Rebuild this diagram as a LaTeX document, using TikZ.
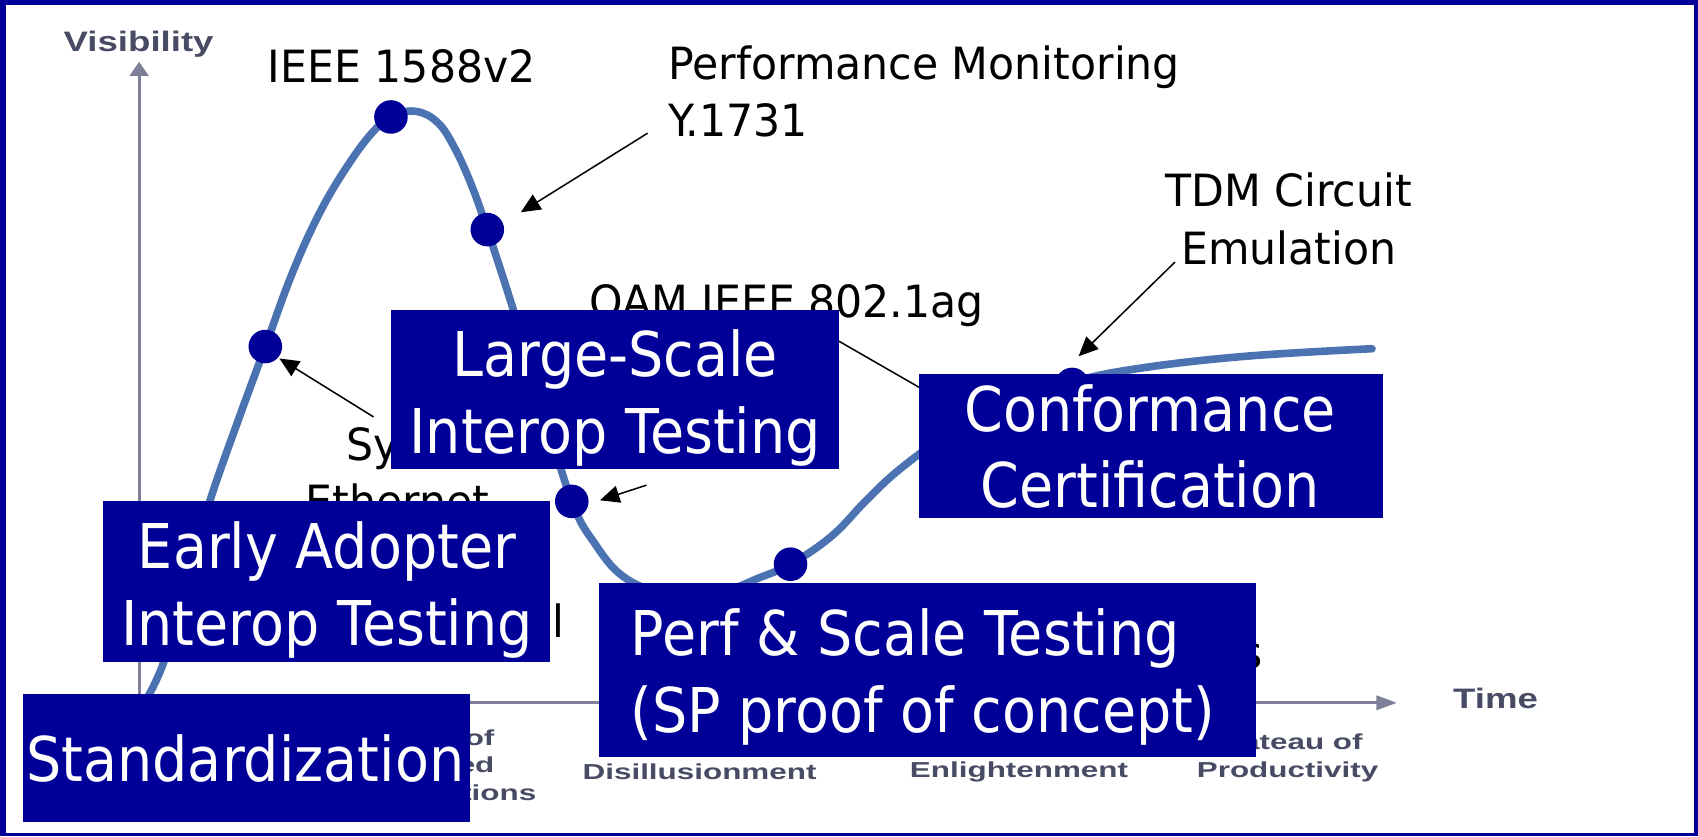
\documentclass[tikz,border=0pt]{standalone}
\usepackage{fontspec}
\usetikzlibrary{arrows.meta}
\newfontfamily\blkfont{DejaVu Sans}[FakeStretch=0.96]
\newfontfamily\whtfont{DejaVu Sans}[FakeStretch=0.9]
\newfontfamily\gryfont{Liberation Sans Bold}[FakeStretch=1.45]
\newfontfamily\axfont{Liberation Sans Bold}[FakeStretch=1.3]
\definecolor{navy}{RGB}{0,0,153}
\definecolor{curveblue}{RGB}{75,115,178}
\definecolor{axisgray}{RGB}{125,128,152}
\definecolor{labelgray}{RGB}{72,75,100}
\newcommand\stk[1]{\vtop{\halign{\hfil##\hfil\cr#1\crcr}}}
\newcommand\stkl[1]{\vtop{\halign{##\hfil\cr#1\crcr}}}
\begin{document}
\begin{tikzpicture}[x=1pt,y=-1pt,
  box/.style={fill=navy,draw=none,inner sep=0pt,rectangle},
  dot/.style={circle,fill=navy,draw=none,inner sep=0pt,minimum size=31pt},
  blk/.style={inner sep=0pt,text=black,font=\blkfont\fontsize{41}{53}\selectfont},
  wht/.style={inner sep=0pt,text=white,font=\whtfont\fontsize{57}{71}\selectfont},
  gry/.style={inner sep=0pt,text=labelgray,font=\gryfont\fontsize{20}{25.5}\selectfont},
  axlbl/.style={inner sep=0pt,text=labelgray,font=\axfont\fontsize{26}{30}\selectfont},
  axis/.style={draw=axisgray,line width=3pt},
  arr/.style={draw=black,line width=1.4pt,-{Triangle[length=18pt,width=16pt]}},
  curve/.style={draw=curveblue,line width=7pt,line cap=round}]
% frame
\fill[navy] (0,0) rectangle (1568,772);
\fill[white] (6,5) rectangle (1564,769);
\useasboundingbox (0,0) rectangle (1568,772);
% axes
\coordinate (origin) at (128.5,649);
\coordinate (ytip) at (128.5,57);
\coordinate (xtip) at (1290,649);
\draw[axis,-{Triangle[length=13pt,width=17pt]}] (origin) -- (ytip);
\draw[axis,-{Triangle[length=19pt,width=13pt]}] (origin) -- (xtip);
\node[axlbl,anchor=base] (vis) at (128,48) {Visibility};
\node[axlbl,anchor=base] (time) at (1381,654) {Time};
% stage labels
\node[gry,anchor=base] (peak) at (405,688) {\stk{Peak of\cr Inflated\cr Expectations}};
\node[gry,anchor=base] (trough) at (646,694) {\stk{Trough of\cr Disillusionment}};
\node[gry,anchor=base] (slope) at (941,692) {\stk{Slope of\cr Enlightenment}};
\node[gry,anchor=base] (plateau) at (1189,692) {\stk{Plateau of\cr Productivity}};
% hype curve
\draw[curve] plot[smooth,tension=0.65] coordinates {(130,655) (151,612) (172,537) (194,462) (220,388) (245,320) (270,252) (296,195) (323,150) (346,120) (364,106) (385,103) (404,113) (419,135) (435,170) (450,212) (474,286) (500,372) (528,463) (550,503) (575,532) (610,548) (640,551) (670,546) (700,534) (730,521) (768,495) (800,462) (830,434) (870,405) (920,378) (990,353) (1053,340) (1150,329) (1267,322)};
% dots
\node[dot] (dpeak) at (361,108) {};
\node[dot] (dpm) at (450,212) {};
\node[dot] (dsync) at (245,320) {};
\node[dot] (dtrough) at (528,463) {};
\node[dot] (dslope) at (730,521) {};
\node[dot] (dtdm) at (990,355) {};
% labels
\node[blk,anchor=base] (ieee) at (371,76) {IEEE 1588v2};
\node[blk,anchor=base west] (pm) at (617,73) {\stkl{Performance Monitoring\cr Y.1731}};
\node[blk,anchor=base] (tdm) at (1190,191) {\stk{TDM Circuit\cr Emulation}};
\node[blk,anchor=base west] (oam) at (544,293) {OAM IEEE 802.1ag};
\node[blk,anchor=base] (sync) at (367,425) {\stk{Sync\cr Ethernet}};
\node[blk,anchor=base west] (frag1) at (510,589) {l};
\node[blk,anchor=base east] (frag2) at (1166,617) {s};
% arrows
\coordinate (tY) at (598,123); \coordinate (hY) at (481,196);
\coordinate (tS) at (345,385); \coordinate (hS) at (258,331);
\coordinate (tE) at (597,448); \coordinate (hE) at (554,462);
\coordinate (tT) at (1085,242); \coordinate (hT) at (996,329);
\coordinate (tO) at (745,298); \coordinate (hO) at (905,390);
\draw[arr] (tY) -- (hY);
\draw[arr] (tS) -- (hS);
\draw[arr] (tE) -- (hE);
\draw[arr] (tT) -- (hT);
\draw[arr] (tO) -- (hO);
% boxes
\node[box,minimum width=414pt,minimum height=147pt] (lsbox) at (568,359.5) {};
\node[box,minimum width=428pt,minimum height=133pt] (cfbox) at (1063,411.5) {};
\node[box,minimum width=413pt,minimum height=148pt] (eabox) at (301.5,537) {};
\node[box,minimum width=607pt,minimum height=161pt] (pfbox) at (856.5,618.5) {};
\node[box,minimum width=413pt,minimum height=118pt] (stbox) at (227.5,700) {};
\node[wht,anchor=base] (lstxt) at (568,348) {\stk{Large-Scale\cr Interop Testing}};
\node[wht,anchor=base] (cftxt) at (1062,398) {\stk{Conformance\cr Certification}};
\node[wht,anchor=base] (eatxt) at (302,525) {\stk{Early Adopter\cr Interop Testing}};
\node[wht,anchor=base west] (pftxt) at (582,605) {\stkl{Perf \& Scale Testing\cr (SP proof of concept)}};
\node[wht,anchor=base] (sttxt) at (226.5,722) {Standardization};
\end{tikzpicture}
\end{document}
